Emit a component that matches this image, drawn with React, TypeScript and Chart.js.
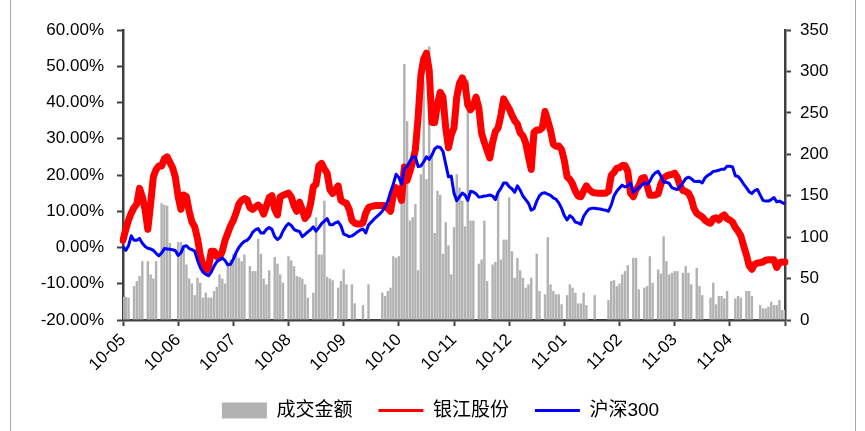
import { useEffect, useRef } from 'react';
import { Chart, registerables } from 'chart.js';

Chart.register(...registerables);

const monthLabels = ['10-05', '10-06', '10-07', '10-08', '10-09', '10-10', '10-11', '10-12', '11-01', '11-02', '11-03', '11-04'];
const pointsPerMonth = 20;

// 成交金额 (right axis)
const turnover: (number | null)[] = [
  28, 28, 27, null, 41, 47, 53, 71, null, 71,
  55, 50, 71, null, 141, 139, 138, 93, null, null,
  94, 94, 88, 67, 50, 44, 30, 51, 45, 27,
  33, 27, 27, 35, 40, 55, 50, 44, 65, 73,
  80, 79, 75, 71, 79, null, 65, 59, 59, 98,
  80, 50, 43, 60, null, 76, 68, 55, 45, null,
  77, 72, 65, 53, 52, 50, 43, 27, null, 33,
  124, 79, 79, 144, 52, 50, 48, null, 39, 47,
  61, 43, null, 43, 20, null, null, 18, null, 43,
  null, null, null, null, 33, 29, 35, 39, 77, 75,
  77, 180, 309, 240, 120, 124, 140, 60, 176, 287,
  170, 330, 199, 105, 156, 151, 80, 118, 90, 55,
  112, 176, 160, 144, 113, 290, 120, 120, null, 68,
  73, 120, 47, null, 67, 70, 152, 73, 97, 97,
  148, 83, 51, 75, 60, 51, 39, 43, 51, null,
  80, 35, null, 31, 100, 43, 35, 31, 31, 19,
  null, 30, 43, 39, 33, 20, 20, 33, 18, null,
  null, 30, null, null, null, null, 24, 47, 48, 41,
  44, 55, 59, 66, null, 75, 75, 37, null, 39,
  41, 77, 45, null, 61, 56, 101, 71, 55, 57,
  59, 59, null, 57, 65, 57, 43, null, 63, 41,
  30, null, null, 27, 45, 19, 29, 29, 26, 35,
  null, null, 26, 29, 27, null, 35, 35, 29, null,
  null, 18, 14, 14, 16, 22, 18, 18, 24, 12,
  12,
];

// 银江股份 (left axis, %)
const yinjiang: number[] = [
  2, 5, 7.5, 9.5, 11, 12, 16.3, 14, 10.5, 5,
  12, 19.5, 21.5, 22.5, 22.5, 24.5, 25, 23.5, 22, 19.3,
  14, 10.5, 14.5, 14, 10, 7, 5.7, 2.5, -2, -5,
  -6.5, -5.5, -1, -1, -2.5, -2.8, -1, 2, 4, 6,
  7.5, 9.5, 12, 13, 13.5, 13.2, 11, 10.5, 11.2, 11.7,
  11, 9.2, 11.5, 13.8, 14.3, 10.5, 9, 14, 14.4, 14.7,
  15, 14, 11.5, 10, 12.5, 10.5, 8, 9, 12, 16.8,
  17.5, 22.5, 23.2, 21.7, 20.5, 16, 14.9, 16, 17, 13,
  12.5, 12.2, 10.5, 7.5, 6.7, 6.5, 6.5, 6.8, 9.5, 11,
  11.3, 11.5, 11.6, 11.6, 11.6, 11.5, 10.8, 10, 14.5, 16.5,
  15.5, 13, 22.2, 18.5, 21, 23.5, 27, 36, 47.5, 52,
  53.6, 49, 34.5, 34.5, 39.5, 42.8, 41.5, 33, 27.5, 31,
  33, 41.5, 45.3, 46.8, 45, 39.3, 38, 39, 41.5, 38.5,
  31.5, 29, 26.8, 24.7, 29, 32, 33, 36.5, 41, 39.6,
  38.3, 36.5, 35, 34, 31.6, 30.8, 28.8, 25, 21.5, 31.8,
  32.4, 32.4, 33, 37.5, 35, 32.3, 28.5, 27.9, 28, 27,
  24, 19.5, 18.8, 17.5, 15.5, 14.2, 14, 15.6, 17, 16,
  15.3, 15.1, 15, 15, 15, 15, 15.5, 19.9, 20.7, 21.9,
  22, 22.6, 22.6, 21, 15, 14, 16, 17, 19, 19.3,
  17, 14.4, 14.4, 14.5, 14.8, 17.5, 19.2, 19.7, 20, 20.2,
  20.5, 19.3, 17, 15.7, 15.5, 15, 13.5, 10.8, 9.4, 8.9,
  8.4, 7.5, 7, 6.7, 7.9, 8.2, 7.6, 8.5, 9, 7.9,
  7.6, 7, 5.5, 4.5, 3.2, 0.5, -2, -5, -6, -4.6,
  -4.3, -4.2, -4, -3.5, -3.4, -3.4, -3.4, -5.5, -4.2, -4,
  -4,
];

// 沪深300 (left axis, %)
const hs300: number[] = [
  0.2, -0.8, 0.5, 3.2, 2, 2, 2.5, 1.2, 0.3, -0.2,
  -0.4, -0.8, -1.6, -2.3, -1.5, -0.3, -0.4, -0.5, -0.6, -0.9,
  -2.2, -1.5, 0.3, 0.5, -0.3, -0.6, -1, -3.5, -5.5, -6.8,
  -7.4, -7.8, -6.8, -5.2, -3.9, -3.4, -2.9, -3.6, -4.8, -4.6,
  -3.2, -1.4, 0, 1, 1.7, 2, 2.8, 4.2, 4.9, 5.2,
  4, 4, 5, 5.5, 5, 3, 2.2, 2.8, 4.5, 5.8,
  6.6, 6.1, 5, 4.6, 4.4, 3, 3.6, 4.3, 4.9, 5.7,
  4.5, 5.5, 6.6, 7.3, 8, 6.3, 6.3, 6.8, 7.1, 6,
  3.7, 3.4, 3, 3.2, 3.7, 4.3, 4.8, 5.1, 4, 6.2,
  7, 7.8, 8.5, 9.2, 10, 11.2, 12.8, 15.3, 17.5, 20.2,
  19.3, 17.5, 21.8, 22.4, 23.8, 25, 25, 22.3, 22.5, 23.6,
  25, 24.3, 25.5, 27.2, 27.8, 27.6, 26.5, 23, 19.5, 19.7,
  15, 12.9, 14, 15, 14.5, 13, 15.5, 15.3, 14.8, 13.9,
  14, 14.2, 14.3, 14.5, 14.2, 13.2, 15.2, 16.3, 17.8, 17.8,
  16.8, 16.2, 15.2, 17, 15.8, 14.2, 13.2, 12.2, 10.3, 10.7,
  12.8, 14.3, 15, 15.1, 14.7, 14.4, 13.7, 13.3, 12.3, 10.8,
  8.8, 7.6, 8.8, 8.2, 7, 6.8, 6.4, 8.6, 9.8, 10.6,
  10.8, 10.8, 10.7, 10.6, 10.4, 10.3, 10, 11.7, 14.2, 15.5,
  16.4, 17.2, 16.7, 17, 17.8, 15.2, 15.9, 16.5, 17.2, 17.8,
  17.4, 18.3, 19.8, 20.6, 21, 19.7, 18, 18, 17.7, 16.5,
  16.2, 16, 16.8, 17.9, 19, 19.4, 19, 18.3, 18.2, 18.3,
  17.8, 19.2, 19.9, 20.3, 21, 21.1, 21.3, 21.6, 21.6, 22.4,
  22.4, 22.2, 19.8, 19.6, 18.7, 17.5, 16.5, 15.4, 14.9, 15.7,
  16, 14.5, 13, 12.8, 12.8, 13.2, 13.8, 12.6, 12.8, 12.4,
  12,
];

const seriesNames = ['成交金额', '银江股份', '沪深300'];
const seriesColors = ['#b2b2b2', '#ff0000', '#0000ff'];

const tickFont = { family: '"Liberation Sans", Arial, sans-serif', size: 17 };
const axisColor = '#404040';

export default function App() {
  const ref = useRef<HTMLCanvasElement | null>(null);

  useEffect(() => {
    if (!ref.current) return;
    const labels = yinjiang.map((_, i) =>
      i % pointsPerMonth === 0 ? monthLabels[i / pointsPerMonth] ?? '' : ''
    );
    const chart = new Chart(ref.current, {
      type: 'bar',
      data: {
        labels,
        datasets: [
          {
            type: 'bar',
            label: seriesNames[0],
            data: turnover,
            yAxisID: 'y1',
            backgroundColor: seriesColors[0],
            borderWidth: 0,
            barPercentage: 0.88,
            categoryPercentage: 1,
            order: 3,
          },
          {
            type: 'line',
            label: seriesNames[1],
            data: yinjiang,
            yAxisID: 'y',
            borderColor: seriesColors[1],
            backgroundColor: seriesColors[1],
            borderWidth: 7,
            borderJoinStyle: 'round',
            borderCapStyle: 'round',
            pointRadius: 0,
            tension: 0,
            order: 2,
          },
          {
            type: 'line',
            label: seriesNames[2],
            data: hs300,
            yAxisID: 'y',
            borderColor: seriesColors[2],
            backgroundColor: seriesColors[2],
            borderWidth: 3,
            borderJoinStyle: 'round',
            pointRadius: 0,
            tension: 0,
            order: 1,
          },
        ] as any,
      },
      options: {
        animation: false,
        responsive: true,
        maintainAspectRatio: false,
        layout: { padding: { left: 16, right: 0, top: 30, bottom: 1 } },
        plugins: {
          tooltip: { enabled: false },
          legend: {
            position: 'bottom',
            labels: {
              usePointStyle: true,
              pointStyleWidth: 45,
              boxHeight: 16,
              padding: 26,
              color: '#000',
              font: { family: '"Liberation Sans", "Noto Sans CJK SC", sans-serif', size: 19 },
              generateLabels: (c: any) =>
                c.data.datasets.map((ds: any, i: number) => ({
                  text: ds.label,
                  datasetIndex: i,
                  fillStyle: seriesColors[i],
                  strokeStyle: seriesColors[i],
                  lineWidth: i === 0 ? 0 : 3,
                  pointStyle: i === 0 ? 'rect' : 'line',
                  hidden: false,
                  fontColor: '#000',
                })),
            },
          },
        },
        scales: {
          x: {
            offset: false,
            grid: {
              offset: false,
              drawOnChartArea: false,
              drawTicks: true,
              tickLength: 6,
              tickColor: axisColor,
              tickWidth: 2,
            },
            border: { color: axisColor, width: 2.5 },
            ticks: {
              autoSkip: false,
              maxRotation: 45,
              minRotation: 45,
              color: '#000',
              font: tickFont,
              padding: 4,
              callback: (_v: any, i: number) => (i % pointsPerMonth === 0 ? labels[i] : null),
            },
            afterFit: (s: any) => {
              s.height = 55;
            },
          },
          y: {
            position: 'left',
            min: -20,
            max: 60,
            grid: {
              drawOnChartArea: false,
              tickLength: 6,
              tickColor: axisColor,
              tickWidth: 2,
            },
            border: { color: axisColor, width: 2.5 },
            ticks: {
              stepSize: 10,
              color: '#000',
              font: tickFont,
              padding: 13,
              callback: (v: any) => Number(v).toFixed(2) + '%',
            },
            afterFit: (s: any) => {
              s.width = 107;
            },
          },
          y1: {
            position: 'right',
            min: 0,
            max: 350,
            grid: {
              drawOnChartArea: false,
              tickLength: 6,
              tickColor: axisColor,
              tickWidth: 2,
            },
            border: { color: axisColor, width: 2.5 },
            ticks: {
              stepSize: 50,
              color: '#000',
              font: tickFont,
              padding: 9,
            },
            afterFit: (s: any) => {
              s.width = 80;
            },
          },
        },
      },
    });
    return () => chart.destroy();
  }, []);

  return (
    <div style={{ position: 'fixed', left: 0, top: 0, width: 865, height: 431, background: '#fff' }}>
      <div
        style={{
          position: 'absolute',
          left: 10,
          top: -2,
          width: 844,
          height: 440,
          borderLeft: '1px solid #a6a6a6',
          borderRight: '1px solid #a6a6a6',
        }}
      />
      <canvas ref={ref} style={{ position: 'relative' }} />
    </div>
  );
}
